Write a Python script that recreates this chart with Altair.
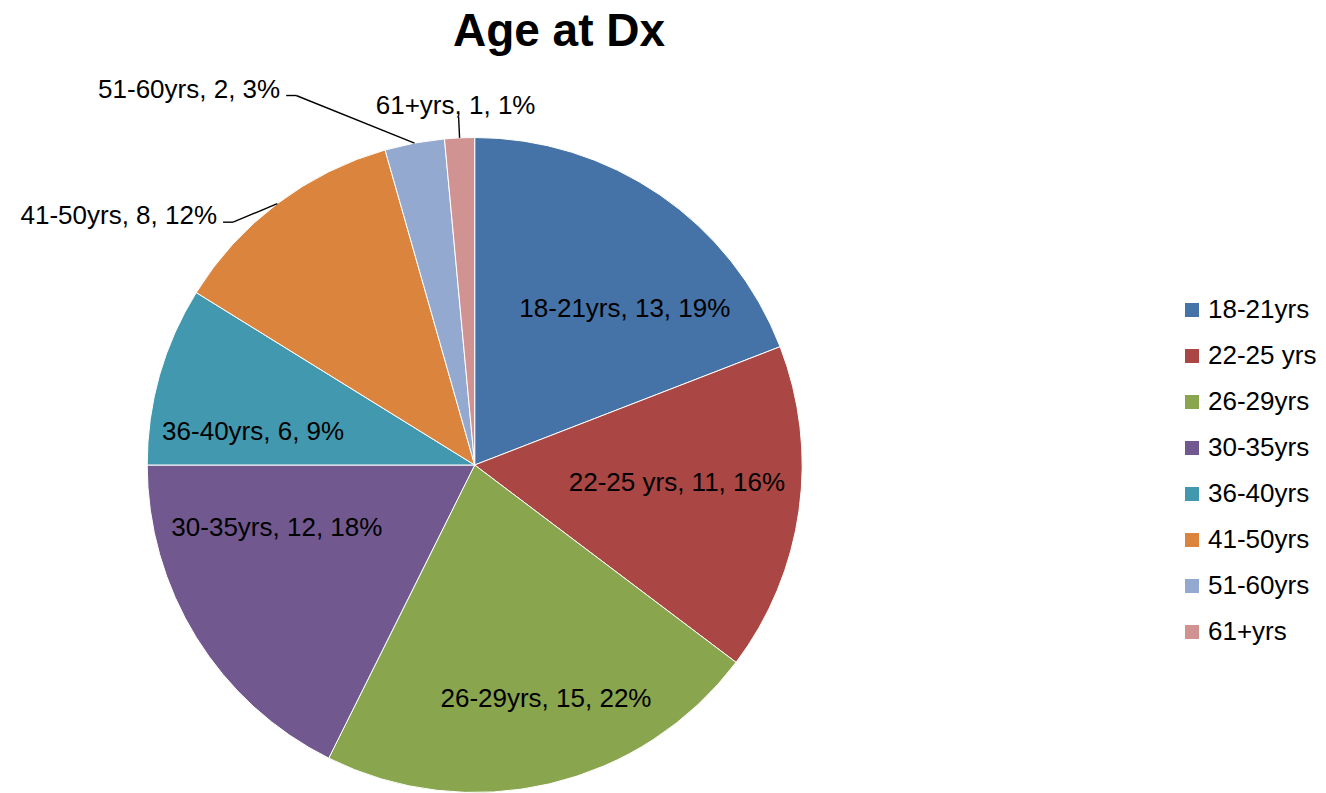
import altair as alt
import pandas as pd

# ---- data ----
categories = ["18-21yrs", "22-25 yrs", "26-29yrs", "30-35yrs", "36-40yrs", "41-50yrs", "51-60yrs", "61+yrs"]
counts = [13, 11, 15, 12, 6, 8, 2, 1]
colors = ["#4572A7", "#AA4643", "#89A54E", "#71588F", "#4198AF", "#DB843D", "#93A9CF", "#D19392"]
title_text = "Age at Dx"

# ---- layout / style ----
CX, CY, R = 466.7, 457.0, 327.5
FONT = "Liberation Sans"
# label placement: angle nudge (deg) from slice middle, radius as fraction of R, kind
label_nudge = [9.5, -2.8, -3.7, 14.1, -7.4, -7.8, -15.2, 0.0]
label_rfac = [0.661, 0.62, 0.747, 0.634, 0.684, 1.046, 1.253, 1.064]
label_kind = ["in", "in", "in", "in", "in", "left", "left", "top"]

total = sum(counts)
labels = [f"{c}, {n}, {round(100 * n / total)}%" for c, n in zip(categories, counts)]

df = pd.DataFrame({
    "idx": list(range(len(categories))),
    "category": categories,
    "count": counts,
    "label": labels,
    "nudge": label_nudge,
    "rf": label_rfac,
    "kind": label_kind,
})

base = alt.Chart(df).transform_window(
    cum="sum(count)", sort=[alt.SortField("idx")], frame=[None, 0]
).transform_joinaggregate(
    total="sum(count)"
).transform_calculate(
    mid="(datum.cum - datum.count/2)/datum.total*2*PI",
).transform_calculate(
    la="datum.mid + datum.nudge*PI/180",
).transform_calculate(
    lx=f"{CX} + {R}*datum.rf*sin(datum.la)",
    ly=f"{CY} - {R}*datum.rf*cos(datum.la)",
    ex=f"{CX} + {R}*sin(datum.mid)",
    ey=f"{CY} - {R}*cos(datum.mid)",
).transform_calculate(
    hx="datum.kind == 'left' ? datum.lx - 10 : datum.lx",
    tx="datum.kind == 'left' ? datum.lx - 16 : datum.lx - 3",
    ty="datum.kind == 'left' ? datum.ly + 2 : datum.ly - 3",
)

pie = alt.Chart(df).mark_arc(radius=R, stroke="white", strokeWidth=1).encode(
    theta=alt.Theta("count:Q", stack=True),
    color=alt.Color(
        "category:N",
        scale=alt.Scale(domain=categories, range=colors),
        legend=alt.Legend(
            orient="none", legendX=1171, legendY=289, title=None,
            symbolType="square", symbolSize=196, symbolStrokeWidth=0,
            symbolOpacity=1, labelFont=FONT, labelFontSize=26,
            labelColor="black", rowPadding=20, labelOffset=3, padding=0,
            labelLimit=400,
        ),
    ),
    order=alt.Order("idx:Q"),
    x=alt.value(CX),
    y=alt.value(CY),
)

X = lambda f: alt.X(f, scale=None, axis=None)
Y = lambda f: alt.Y(f, scale=None, axis=None)

inside = base.transform_filter("datum.kind == 'in'").mark_text(
    font=FONT, fontSize=26, color="black", align="center", baseline="middle"
).encode(x=X("lx:Q"), y=Y("ly:Q"), text="label:N")

outside = base.transform_filter("datum.kind != 'in'")

lead1 = outside.mark_rule(color="black", strokeWidth=1.4).encode(
    x=X("ex:Q"), y=Y("ey:Q"), x2="lx:Q", y2="ly:Q",
)
lead2 = outside.transform_filter("datum.kind == 'left'").mark_rule(
    color="black", strokeWidth=1.4
).encode(x=X("lx:Q"), y=Y("ly:Q"), x2="hx:Q", y2="ly:Q")

out_left = outside.transform_filter("datum.kind == 'left'").mark_text(
    font=FONT, fontSize=26, color="black", align="right", baseline="alphabetic"
).encode(x=X("tx:Q"), y=Y("ty:Q"), text="label:N")

out_top = outside.transform_filter("datum.kind == 'top'").mark_text(
    font=FONT, fontSize=26, color="black", align="center", baseline="alphabetic"
).encode(x=X("tx:Q"), y=Y("ty:Q"), text="label:N")

title = alt.Chart(pd.DataFrame({"t": [title_text]})).mark_text(
    font=FONT, fontSize=46, fontWeight="bold", color="black",
    align="center", baseline="alphabetic",
).encode(text="t:N", x=alt.value(551), y=alt.value(38))

chart = alt.layer(pie, inside, lead1, lead2, out_left, out_top, title).properties(
    width=1310, height=785,
    autosize=alt.AutoSizeParams(type="none"),
    padding=0,
).configure(
    background="white",
    view=alt.ViewConfig(stroke=None),
)

chart.save("out.html", embed_options={"renderer": "svg", "actions": False})
